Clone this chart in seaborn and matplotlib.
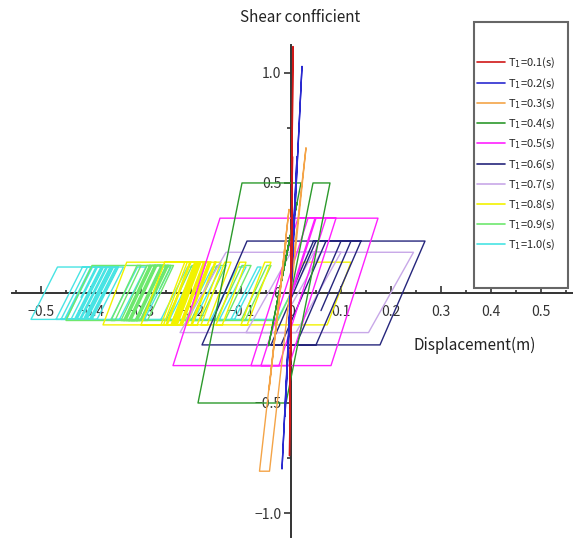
import matplotlib
matplotlib.use('Agg')
import numpy as np
import pandas as pd
from matplotlib import pyplot as plt
from matplotlib.lines import Line2D
from matplotlib.patches import Rectangle
from matplotlib.ticker import MultipleLocator
import seaborn as sns

# hysteresis paths (displacement in m, shear coefficient)
periods = ['0.1', '0.2', '0.3', '0.4', '0.5', '0.6', '0.7', '0.8', '0.9', '1.0']
colors = ['#d01818', '#2a2ad0', '#f4a448', '#2c9a2c', '#ff20ff',
          '#26267c', '#c8a8e8', '#f2f200', '#6ee86e', '#48e4e4']

disp_01 = [0, 0.004, -0.003, 0.003, -0.002, 0.002, 0]
shear_01 = [0, 1.12, -0.74, 0.62, -0.5, 0.3, 0]

disp_02 = [0, 0.022, -0.018, 0.012, -0.012, 0.006, 0]
shear_02 = [0, 1.03, -0.80, 0.62, -0.56, 0.35, 0]

disp_03 = [0, 0.03, -0.043, -0.063, -0.018, -0.004, -0.044, -0.010, -0.032, -0.022]
shear_03 = [0, 0.66, -0.81, -0.81, 0.09, 0.38, -0.44, 0.24, -0.20, 0.0]

disp_04 = [0, 0.044, 0.078, -0.01, -0.186, -0.098, 0.02, -0.03, 0.012, -0.045, 0.004, -0.02]
shear_04 = [0, 0.5, 0.5, -0.5, -0.5, 0.5, 0.5, -0.07, 0.41, -0.24, 0.32, 0.05]

disp_05 = [0, 0.048, 0.174, 0.08, -0.236, -0.142, 0.09, -0.004, -0.08, 0.014, 0.07,
           -0.024, -0.06, 0.034, 0.05, -0.002]
shear_05 = [0, 0.34, 0.34, -0.33, -0.33, 0.34, 0.34, -0.33, -0.33, 0.34, 0.34,
            -0.33, -0.33, 0.34, 0.34, -0.03]

disp_06 = [0, 0.045, 0.268, 0.178, -0.178, -0.088, 0.14, 0.05, -0.04, 0.05, 0.10,
           0.01, -0.02, 0.07, 0.12, 0.06]
shear_06 = [0, 0.236, 0.236, -0.236, -0.236, 0.236, 0.236, -0.236, -0.236, 0.236, 0.236,
            -0.236, -0.236, 0.236, 0.236, -0.08]

disp_07 = [0, 0.046, 0.245, 0.155, -0.222, -0.13, 0.10, 0.01, -0.09, 0.0, 0.06, 0.002]
shear_07 = [0, 0.185, 0.185, -0.18, -0.18, 0.185, 0.185, -0.18, -0.18, 0.185, 0.185, -0.05]

disp_08 = [0, 0.023, 0.12, 0.0725,
           -0.10, -0.0525, -0.04, -0.0875,
           -0.15, -0.1025, -0.09, -0.1375,
           -0.18, -0.1325, -0.12, -0.1675,
           -0.20, -0.1525, -0.14, -0.1875,
           -0.21, -0.1625, -0.15, -0.1975,
           -0.22, -0.1725, -0.16, -0.2075,
           -0.23, -0.1825, -0.165, -0.2125,
           -0.24, -0.1925, -0.175, -0.2225,
           -0.376, -0.3285, -0.17, -0.2175,
           -0.25, -0.2025, -0.185, -0.2325,
           -0.26, -0.2125, -0.19, -0.2375,
           -0.30, -0.2525, -0.20, -0.2475,
           -0.255, -0.2075, -0.18, -0.2275,
           -0.235, -0.1875, -0.17, -0.195]
shear_08 = [0, 0.14, 0.14, -0.145,
            -0.145, 0.14, 0.14, -0.145,
            -0.145, 0.14, 0.14, -0.145,
            -0.145, 0.14, 0.14, -0.145,
            -0.145, 0.14, 0.14, -0.145,
            -0.145, 0.14, 0.14, -0.145,
            -0.145, 0.14, 0.14, -0.145,
            -0.145, 0.14, 0.14, -0.145,
            -0.145, 0.14, 0.14, -0.145,
            -0.145, 0.14, 0.14, -0.145,
            -0.145, 0.14, 0.14, -0.145,
            -0.145, 0.14, 0.14, -0.145,
            -0.145, 0.14, 0.14, -0.145,
            -0.145, 0.14, 0.14, -0.145,
            -0.145, 0.14, 0.14, -0.01]

disp_09 = [0,
           -0.026, -0.10, -0.048, -0.04,
           -0.092, -0.15, -0.098, -0.08,
           -0.132, -0.20, -0.148, -0.13,
           -0.182, -0.25, -0.198, -0.185,
           -0.237, -0.30, -0.248, -0.235,
           -0.287, -0.32, -0.268, -0.25,
           -0.302, -0.34, -0.288, -0.27,
           -0.322, -0.45, -0.398, -0.30,
           -0.352, -0.36, -0.308, -0.28,
           -0.332, -0.335, -0.283, -0.26,
           -0.312, -0.33, -0.278, -0.255,
           -0.307, -0.325, -0.273, -0.245,
           -0.297, -0.31, -0.258, -0.24,
           -0.262]
shear_09 = [0,
            -0.125, -0.125, 0.125, 0.125,
            -0.125, -0.125, 0.125, 0.125,
            -0.125, -0.125, 0.125, 0.125,
            -0.125, -0.125, 0.125, 0.125,
            -0.125, -0.125, 0.125, 0.125,
            -0.125, -0.125, 0.125, 0.125,
            -0.125, -0.125, 0.125, 0.125,
            -0.125, -0.125, 0.125, 0.125,
            -0.125, -0.125, 0.125, 0.125,
            -0.125, -0.125, 0.125, 0.125,
            -0.125, -0.125, 0.125, 0.125,
            -0.125, -0.125, 0.125, 0.125,
            -0.125, -0.125, 0.125, 0.125,
            0.02]

disp_10 = [0,
           -0.027, -0.12, -0.067, -0.06,
           -0.113, -0.16, -0.107, -0.09,
           -0.143, -0.21, -0.157, -0.14,
           -0.193, -0.26, -0.207, -0.19,
           -0.243, -0.31, -0.257, -0.24,
           -0.293, -0.36, -0.307, -0.29,
           -0.343, -0.40, -0.347, -0.335,
           -0.388, -0.41, -0.357, -0.345,
           -0.398, -0.52, -0.467, -0.40,
           -0.453, -0.47, -0.417, -0.375,
           -0.428, -0.44, -0.387, -0.37,
           -0.423, -0.43, -0.377, -0.36,
           -0.413, -0.42, -0.367, -0.355,
           -0.408, -0.415, -0.362, -0.35,
           -0.403, -0.45, -0.397, -0.38,
           -0.433, -0.46, -0.407, -0.39,
           -0.42]
shear_10 = [0,
            -0.12, -0.12, 0.118, 0.118,
            -0.12, -0.12, 0.118, 0.118,
            -0.12, -0.12, 0.118, 0.118,
            -0.12, -0.12, 0.118, 0.118,
            -0.12, -0.12, 0.118, 0.118,
            -0.12, -0.12, 0.118, 0.118,
            -0.12, -0.12, 0.118, 0.118,
            -0.12, -0.12, 0.118, 0.118,
            -0.12, -0.12, 0.118, 0.118,
            -0.12, -0.12, 0.118, 0.118,
            -0.12, -0.12, 0.118, 0.118,
            -0.12, -0.12, 0.118, 0.118,
            -0.12, -0.12, 0.118, 0.118,
            -0.12, -0.12, 0.118, 0.118,
            -0.12, -0.12, 0.118, 0.118,
            -0.12, -0.12, 0.118, 0.118,
            -0.02]

paths = {
    '0.1': (disp_01, shear_01), '0.2': (disp_02, shear_02), '0.3': (disp_03, shear_03),
    '0.4': (disp_04, shear_04), '0.5': (disp_05, shear_05), '0.6': (disp_06, shear_06),
    '0.7': (disp_07, shear_07), '0.8': (disp_08, shear_08), '0.9': (disp_09, shear_09),
    '1.0': (disp_10, shear_10),
}

xticks = [-0.5, -0.4, -0.3, -0.2, -0.1, 0.0, 0.1, 0.2, 0.3, 0.4, 0.5]
xtick_labels = ['\u22120.5', '\u22120.4', '\u22120.3', '\u22120.2', '\u22120.1', '0',
                '0.1', '0.2', '0.3', '0.4', '0.5']
yticks = [-1.0, -0.5, 0.0, 0.5, 1.0]
ytick_labels = ['\u22121.0', '\u22120.5', '0', '0.5', '1.0']

rows = []
for p in periods:
    d, q = paths[p]
    for i, (x, y) in enumerate(zip(d, q)):
        rows.append({'period': p, 'step': i, 'disp': x, 'shear': y})
df = pd.DataFrame(rows)

sns.set_style('white')
plt.rcParams['font.family'] = ['Noto Sans CJK JP', 'DejaVu Sans']

fig = plt.figure(figsize=(5.73, 5.43), dpi=100)
ax = fig.add_axes([12 / 573, 6 / 543, 561 / 573, 492 / 543])

sns.lineplot(data=df, x='disp', y='shear', hue='period', hue_order=periods[::-1],
             palette=dict(zip(periods, colors)), sort=False, estimator=None,
             linewidth=1.0, legend=False, ax=ax)

ax.set_xlim(-0.558, 0.564)
ax.set_ylim(-1.109, 1.127)
ax.set_xlabel('')
ax.set_ylabel('')

# axes crossing at the origin
ax.spines['left'].set_position(('data', 0))
ax.spines['bottom'].set_position(('data', 0))
ax.spines['top'].set_visible(False)
ax.spines['right'].set_visible(False)
for s in ['left', 'bottom']:
    ax.spines[s].set_color('#333333')
    ax.spines[s].set_linewidth(1.4)
    ax.spines[s].set_zorder(1)

ax.set_xticks(xticks)
ax.set_xticklabels(xtick_labels)
ax.set_yticks(yticks)
ax.set_yticklabels(ytick_labels)
ax.xaxis.set_minor_locator(MultipleLocator(0.05))
ax.yaxis.set_minor_locator(MultipleLocator(0.25))
ax.tick_params(axis='x', which='major', direction='in', length=5, width=1.2,
               colors='#333333', labelsize=10, pad=9, bottom=True)
ax.tick_params(axis='x', which='minor', direction='in', length=2.5, width=1.2,
               colors='#333333', bottom=True)
ax.tick_params(axis='y', which='major', direction='out', length=5, width=1.2,
               colors='#333333', labelsize=10, pad=2, left=True)
ax.tick_params(axis='y', which='minor', direction='out', length=3, width=1.2,
               colors='#333333', left=True)

fig.text(300 / 573, 1 - 18 / 543, 'Shear confficient', ha='center', va='center',
         fontsize=11, color='#222222')
fig.text(475 / 573, 1 - 345 / 543, 'Displacement(m)', ha='center', va='center',
         fontsize=11, color='#222222')

# legend box
fig.patches.append(Rectangle((474 / 573, 1 - 288 / 543), 94 / 573, 266 / 543,
                             transform=fig.transFigure, facecolor='white',
                             edgecolor='#666666', lw=1.5, zorder=2))
handles = [Line2D([0], [0], color=c, lw=1.2) for c in colors]
labels = [r'T$_{1}$=' + p + '(s)' for p in periods]
fig.legend(handles, labels, loc='upper left', bbox_to_anchor=(475 / 573, 1 - 54 / 543),
           frameon=False, fontsize=8, handlelength=2.5, handletextpad=0.3,
           labelspacing=0.54, borderaxespad=0, borderpad=0.2)

fig.savefig('out.png', dpi=100)
